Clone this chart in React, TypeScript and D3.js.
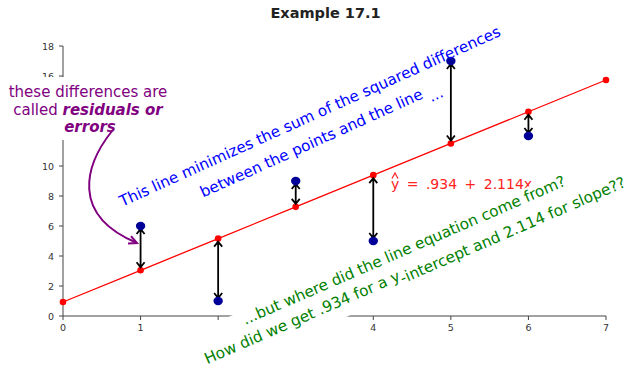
import React from "react";
import * as d3 from "d3";

// Observed data (Example 17.1)
const xValues = [1, 2, 3, 4, 5, 6];
const yValues = [6, 1, 9, 5, 17, 12];

// Least-squares line: y-hat = b0 + b1 * x
const intercept = 0.934;
const slope = 2.114;
const fitX = [0, 1, 2, 3, 4, 5, 6, 7];

const xTicks = [0, 1, 2, 3, 4, 5, 6, 7];
const yTicks = [0, 2, 4, 6, 8, 10, 12, 14, 16, 18];

const W = 627;
const H = 368;
const FONT = "'DejaVu Sans', Verdana, sans-serif";

// white panel behind the residuals note
const NOTE_BOX = { x: 0, y: 77, w: 172, h: 63 };

export default function App() {
  const x = d3.scaleLinear().domain([0, 7]).range([63, 606]);
  const y = d3.scaleLinear().domain([0, 18]).range([316, 46]);
  const fit = (v: number) => intercept + slope * v;

  const linePath = d3
    .line<number>()
    .x((d) => x(d))
    .y((d) => y(fit(d)))(fitX) as string;

  // tick labels that sit fully behind the note panel are not drawn
  const visibleYLabels = yTicks.filter((t) => {
    const py = y(t);
    return !(py - 3 > NOTE_BOX.y && py + 3 < NOTE_BOX.y + NOTE_BOX.h);
  });

  const residualArrows = xValues.map((xv, i) => {
    const px = x(xv);
    const yo = y(yValues[i]);
    const yl = y(fit(xv));
    const top = Math.min(yo, yl) + 3;
    const bottom = Math.max(yo, yl) - 3;
    const d =
      `M${px},${top}L${px},${bottom}` +
      `M${px - 4},${top + 5}L${px},${top}L${px + 4},${top + 5}` +
      `M${px - 4},${bottom - 5}L${px},${bottom}L${px + 4},${bottom - 5}`;
    return <path key={i} d={d} fill="none" stroke="#000" strokeWidth={1.8} />;
  });

  // curved callout arrow from the residuals note
  const tip: [number, number] = [137, 243];
  const dir = [0.923, 0.386];
  const head = (ang: number) => {
    const c = Math.cos(ang);
    const s = Math.sin(ang);
    const vx = -(dir[0] * c - dir[1] * s) * 9;
    const vy = -(dir[0] * s + dir[1] * c) * 9;
    return [tip[0] + vx, tip[1] + vy];
  };
  const h1 = head(0.45);
  const h2 = head(-0.45);

  return (
    <svg
      width={W}
      height={H}
      style={{ position: "absolute", left: 0, top: 0, background: "#fff" }}
      fontFamily={FONT}
    >
      <rect width={W} height={H} fill="#fff" />
      <text x={325.5} y={18} textAnchor="middle" fontSize={14.5} fontWeight="bold" fill="#222">
        Example 17.1
      </text>

      {/* axes */}
      <g stroke="#444" strokeWidth={1} fill="none">
        <line x1={x(0)} x2={x(0)} y1={y(18)} y2={y(0)} />
        <line x1={x(0)} x2={x(7)} y1={y(0)} y2={y(0)} />
        {yTicks.map((t) => (
          <line key={t} x1={x(0) - 4} x2={x(0)} y1={y(t)} y2={y(t)} />
        ))}
        {xTicks.map((t) => (
          <line key={t} x1={x(t)} x2={x(t)} y1={y(0)} y2={y(0) + 4} />
        ))}
      </g>
      <g fontSize={9.5} fill="#333">
        {visibleYLabels.map((t) => (
          <text key={t} x={x(0) - 9} y={y(t) + 3.5} textAnchor="end">
            {t}
          </text>
        ))}
        {xTicks.map((t) => (
          <text key={t} x={x(t)} y={y(0) + 15} textAnchor="middle">
            {t}
          </text>
        ))}
      </g>

      {/* regression line and fitted points */}
      <path d={linePath} fill="none" stroke="#f00" strokeWidth={1.3} />
      {fitX.map((v) => (
        <circle key={v} cx={x(v)} cy={y(fit(v))} r={3.3} fill="#f00" />
      ))}

      {residualArrows}

      {/* observed points */}
      {xValues.map((xv, i) => (
        <ellipse key={i} cx={x(xv)} cy={y(yValues[i])} rx={4.7} ry={4.2} fill="#000099" />
      ))}

      {/* equation */}
      <path d="M392,178.5L395,173L398,178.5" fill="none" stroke="#f22" strokeWidth={1.2} />
      <text x={391} y={189} fontSize={14} fill="#f22" wordSpacing={3}>
        y = .934 + 2.114x
      </text>

      {/* blue note */}
      <g transform="translate(312,121) rotate(-24.3)" fill="#0000ff" fontSize={15.2} textAnchor="middle">
        <text x={0} y={0}>This line minimizes the sum of the squared differences</text>
        <text x={0} y={25}>
          between the points and the line
          <tspan dy={7}> ...</tspan>
        </text>
      </g>

      {/* residuals note */}
      <rect x={NOTE_BOX.x} y={NOTE_BOX.y} width={NOTE_BOX.w} height={NOTE_BOX.h} fill="#fff" />
      <g fill="#800080" fontSize={15} textAnchor="middle">
        <text x={88} y={97}>these differences are</text>
        <text x={88} y={115}>
          called <tspan fontWeight="bold" fontStyle="italic">residuals or</tspan>
        </text>
        <text x={90} y={132} fontWeight="bold" fontStyle="italic">
          errors
        </text>
      </g>
      <path d="M112,131 C85,165 70,215 137,243" fill="none" stroke="#800080" strokeWidth={2} />
      <path
        d={`M${h1[0]},${h1[1]}L${tip[0]},${tip[1]}L${h2[0]},${h2[1]}`}
        fill="none"
        stroke="#800080"
        strokeWidth={2}
      />

      {/* green question */}
      <g transform="translate(406,255) rotate(-23.5)">
        <rect x={-236} y={-14} width={472} height={47} fill="#fff" />
        <g fill="#008000" fontSize={15.3} textAnchor="middle">
          <text x={0} y={0}>...but where did the line equation come from?</text>
          <text x={2} y={21}>
            How did we get .934 for a y<tspan dy={4}>-intercept and 2.114 for slope??</tspan>
          </text>
        </g>
      </g>
    </svg>
  );
}
